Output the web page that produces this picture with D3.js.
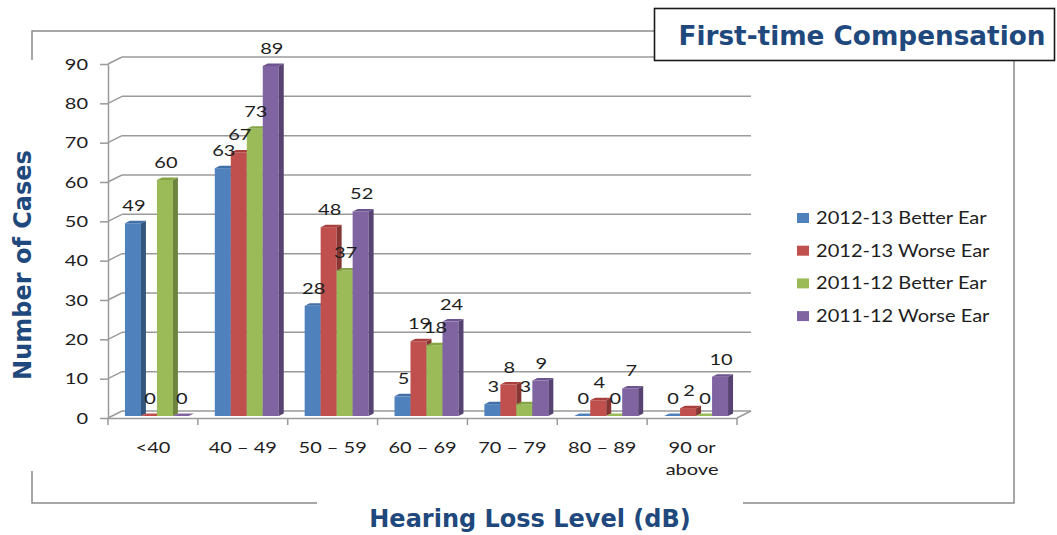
<!DOCTYPE html>
<html>
<head>
<meta charset="utf-8">
<script src="https://cdn.jsdelivr.net/npm/d3@7"></script>
<style>
  html, body { margin: 0; padding: 0; background: #fff; }
  svg { display: block; }
</style>
</head>
<body>
<svg id="chart" width="1057" height="535"></svg>
<script>
// Hearing loss cases by level, two years, better / worse ear
const categories = ["<40", "40 – 49", "50 – 59", "60 – 69", "70 – 79", "80 – 89", "90 or above"];
const categoryLines = [["<40"], ["40 – 49"], ["50 – 59"], ["60 – 69"], ["70 – 79"], ["80 – 89"], ["90 or", "above"]];
const seriesNames = ["2012-13 Better Ear", "2012-13 Worse Ear", "2011-12 Better Ear", "2011-12 Worse Ear"];
const better1213 = [49, 63, 28, 5, 3, 0, 0];
const worse1213  = [0, 67, 48, 19, 8, 4, 2];
const better1112 = [60, 73, 37, 18, 3, 0, 0];
const worse1112  = [0, 89, 52, 24, 9, 7, 10];
const yTicks = [0, 10, 20, 30, 40, 50, 60, 70, 80, 90];

const seriesValues = [better1213, worse1213, better1112, worse1112];
const faceColors = [
  { front: "#4F81BD", top: "#416fa8", side: "#34577f" },
  { front: "#C0504D", top: "#a8403d", side: "#873633" },
  { front: "#9BBB59", top: "#86a446", side: "#6c853a" },
  { front: "#8064A2", top: "#6d538f", side: "#574372" }
];

const svg = d3.select("#chart");
const labelFont = "Lato, 'Noto Sans', sans-serif";
const titleFont = "'DejaVu Sans', Verdana, sans-serif";
const textStretch = 1.25;
const labelSize = 16;
const ink = "#1e1e1e";
const gridColor = "#9a9a9a";

// projection offsets for the 3-D look
const back = { dx: 14, dy: -7 };
const barFront = { dx: 4, dy: -2 };
const barDepth = { dx: 5, dy: -2.5 };

const y = d3.scaleLinear().domain([0, 90]).range([418, 64]);
const x0 = d3.scaleBand().domain(categories).range([108, 737]).paddingInner(0).paddingOuter(0);
const x1 = d3.scaleBand().domain(seriesNames).range([0, x0.bandwidth()]).paddingInner(0).paddingOuter(0.81);

// outer frame (broken by the title boxes)
svg.append("path")
  .attr("d", "M32,60 V31 H654 M1014,61 V503 H743 M317,503 H32 V471")
  .attr("fill", "none").attr("stroke", "#8a8a8a").attr("stroke-width", 1.5);

// back-wall gridlines with their diagonal ties to the front axis
const grid = svg.append("g");
yTicks.forEach(t => {
  const yy = y(t);
  grid.append("line")
    .attr("x1", 108).attr("y1", yy).attr("x2", 108 + back.dx).attr("y2", yy + back.dy)
    .attr("stroke", gridColor).attr("stroke-width", 1.5);
  grid.append("line")
    .attr("x1", 108 + back.dx).attr("y1", yy + back.dy).attr("x2", 737 + back.dx).attr("y2", yy + back.dy)
    .attr("stroke", gridColor).attr("stroke-width", 1.5);
});
// floor right edge
grid.append("line")
  .attr("x1", 737).attr("y1", y(0)).attr("x2", 737 + back.dx).attr("y2", y(0) + back.dy)
  .attr("stroke", gridColor).attr("stroke-width", 1.5);

// y axis
const yAxis = svg.append("g")
  .attr("transform", "translate(108,0)")
  .call(d3.axisLeft(y).tickValues(yTicks).tickSize(8).tickPadding(12).tickSizeOuter(0));
yAxis.select(".domain").attr("stroke", gridColor).attr("stroke-width", 1.5);
yAxis.selectAll(".tick line").attr("stroke", gridColor).attr("stroke-width", 1.5);
yAxis.selectAll(".tick text")
  .attr("font-family", labelFont).attr("font-size", labelSize).attr("fill", ink)
  .each(function () {
    const t = d3.select(this);
    t.attr("x", +t.attr("x") / textStretch).attr("transform", `scale(${textStretch},1)`);
  });

// x axis with labels under band centres
const xAxis = svg.append("g")
  .attr("transform", `translate(0,${y(0)})`)
  .call(d3.axisBottom(x0).tickSize(0).tickPadding(24).tickSizeOuter(0));
xAxis.select(".domain").attr("stroke", gridColor).attr("stroke-width", 1.5);
xAxis.selectAll(".tick text").each(function (d, i) {
  const t = d3.select(this);
  t.text(null)
    .attr("font-family", labelFont).attr("font-size", labelSize).attr("fill", ink)
    .attr("transform", `scale(${textStretch},1)`);
  categoryLines[i].forEach((line, k) => {
    t.append("tspan").attr("x", 0).attr("dy", k === 0 ? "0.71em" : "22px").text(line);
  });
});
// boundary ticks between categories
xAxis.selectAll(".boundary")
  .data(d3.range(categories.length + 1))
  .join("line")
  .attr("class", "boundary")
  .attr("x1", i => x0.range()[0] + i * x0.step())
  .attr("x2", i => x0.range()[0] + i * x0.step())
  .attr("y1", 0).attr("y2", 7)
  .attr("stroke", gridColor).attr("stroke-width", 1.5);

// 3-D bars
const bars = svg.append("g");
const labels = [];
categories.forEach((cat, ci) => {
  seriesNames.forEach((s, si) => {
    const v = seriesValues[si][ci];
    const w = x1.bandwidth();
    const fx = x0(cat) + x1(s) + barFront.dx;
    const yb = y(0) + barFront.dy;
    const yt = y(v) + barFront.dy;
    const c = faceColors[si];
    const g = bars.append("g");
    if (v > 0) {
      g.append("rect").attr("x", fx).attr("y", yt).attr("width", w).attr("height", yb - yt).attr("fill", c.front);
      g.append("polygon")
        .attr("points", [[fx + w, yt], [fx + w + barDepth.dx, yt + barDepth.dy], [fx + w + barDepth.dx, yb + barDepth.dy], [fx + w, yb]].join(" "))
        .attr("fill", c.side);
    }
    g.append("polygon")
      .attr("points", [[fx, yt], [fx + w, yt], [fx + w + barDepth.dx, yt + barDepth.dy], [fx + barDepth.dx, yt + barDepth.dy]].join(" "))
      .attr("fill", v > 0 ? c.top : c.front);
    labels.push({ x: fx + w / 2 + 1, y: yt - 12, v });
  });
});

// value labels
svg.append("g").selectAll("g")
  .data(labels)
  .join("g")
  .attr("transform", d => `translate(${d.x},${d.y}) scale(${textStretch},1)`)
  .append("text")
  .attr("text-anchor", "middle")
  .attr("font-family", labelFont).attr("font-size", labelSize).attr("fill", ink)
  .text(d => d.v);

// legend
const legend = svg.append("g");
seriesNames.forEach((s, i) => {
  const cy = 218 + i * 32.7;
  legend.append("rect").attr("x", 797).attr("y", cy - 5).attr("width", 12).attr("height", 10)
    .attr("fill", faceColors[i].front);
  legend.append("g")
    .attr("transform", `translate(816,${cy + 6}) scale(1.18,1)`)
    .append("text")
    .attr("font-family", labelFont).attr("font-size", 17).attr("fill", ink)
    .text(s);
});

// title box
svg.append("rect").attr("x", 654.5).attr("y", 8.5).attr("width", 400).attr("height", 52)
  .attr("fill", "#fff").attr("stroke", "#1a1a1a").attr("stroke-width", 1.6);
svg.append("text")
  .attr("x", 862).attr("y", 45).attr("text-anchor", "middle")
  .attr("font-family", titleFont).attr("font-weight", "bold").attr("font-size", 26.3)
  .attr("fill", "#1f497d")
  .text("First-time Compensation");

// axis titles
svg.append("text")
  .attr("x", 530).attr("y", 527).attr("text-anchor", "middle")
  .attr("font-family", titleFont).attr("font-weight", "bold").attr("font-size", 24)
  .attr("fill", "#1f497d")
  .text("Hearing Loss Level (dB)");
svg.append("text")
  .attr("transform", "translate(31,265) rotate(-90)")
  .attr("text-anchor", "middle")
  .attr("font-family", titleFont).attr("font-weight", "bold").attr("font-size", 24)
  .attr("fill", "#1f497d")
  .text("Number of Cases");
</script>
</body>
</html>
